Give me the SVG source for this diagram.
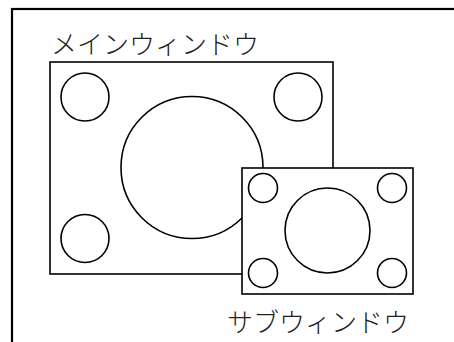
<svg xmlns="http://www.w3.org/2000/svg" width="454" height="342" viewBox="0 0 454 342">
<style>
.s{fill:#fff;stroke:#000;stroke-width:1.6}
.c{fill:none;stroke:#000;stroke-width:1.6}
.t{font-family:"Noto Sans CJK JP",sans-serif;font-size:26px;fill:#222;font-weight:300}
</style>
<rect x="0" y="0" width="454" height="342" fill="#fff"/>
<rect x="12" y="9" width="460" height="360" fill="none" stroke="#000" stroke-width="2.2"/>
<g id="main">
<rect class="s" x="50" y="62" width="283" height="212"/>
<circle class="c" cx="85" cy="97" r="24"/>
<circle class="c" cx="298" cy="97" r="24"/>
<circle class="c" cx="85" cy="238.5" r="24"/>
<circle class="c" cx="192" cy="167.5" r="71"/>
<text class="t" x="51" y="54">メインウィンドウ</text>
</g>
<g id="sub">
<rect class="s" x="242" y="168" width="171" height="126"/>
<circle class="c" cx="263" cy="188" r="14.5"/>
<circle class="c" cx="392" cy="188" r="14.5"/>
<circle class="c" cx="263" cy="273" r="14.5"/>
<circle class="c" cx="392" cy="273" r="14.5"/>
<circle class="c" cx="327.5" cy="230.5" r="42.5"/>
<text class="t" x="227" y="332">サブウィンドウ</text>
</g>
<g id="connectors"/>
</svg>
